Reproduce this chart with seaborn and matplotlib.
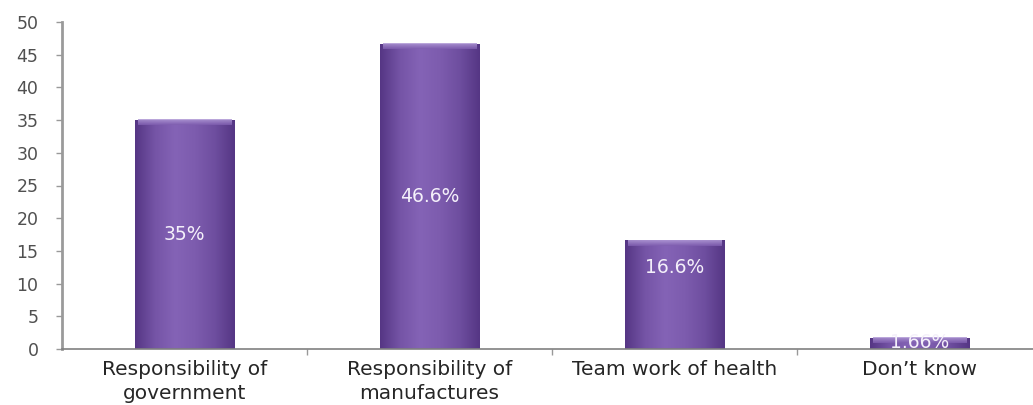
import numpy as np
import pandas as pd
import matplotlib
matplotlib.use("Agg")
import matplotlib.pyplot as plt
from matplotlib.colors import LinearSegmentedColormap
import seaborn as sns

categories = ["Responsibility of\ngovernment", "Responsibility of\nmanufactures",
              "Team work of health", "Don\u2019t know"]
values = [35, 46.6, 16.6, 1.66]
value_labels = ["35%", "46.6%", "16.6%", "1.66%"]
y_ticks = [0, 5, 10, 15, 20, 25, 30, 35, 40, 45, 50]

sns.set_theme(style="white")
plt.rcParams["font.family"] = ["DejaVu Sans"]

df = pd.DataFrame({"category": categories, "value": values})

fig = plt.figure(figsize=(10.33, 4.05), dpi=100)
ax = fig.add_axes([62 / 1033, 56 / 405, (1042 - 62) / 1033, (349 - 22) / 405])

sns.barplot(data=df, x="category", y="value", color="#7a58aa", width=0.405,
            saturation=1, ax=ax, zorder=2)

# cylinder-like horizontal shading on every bar
shade = LinearSegmentedColormap.from_list(
    "barshade", ["#553684", "#7554a6", "#8463b6", "#7d5cae", "#6e4e9f", "#553684"])
grad = np.linspace(0, 1, 256).reshape(1, -1)
for p in ax.patches:
    x0, y0 = p.get_x(), p.get_y()
    w, h = p.get_width(), p.get_height()
    im = ax.imshow(grad, cmap=shade, aspect="auto", extent=[x0, x0 + w, y0, y0 + h],
                   zorder=2.5, interpolation="bicubic")
    im.set_clip_path(p)
    # light bevel along the top edge
    bevel_h = min(0.8, h * 0.5)
    ax.imshow(np.linspace(0, 1, 64).reshape(-1, 1),
              cmap=LinearSegmentedColormap.from_list("bevel", ["#7d5cae", "#b39cd8"]),
              aspect="auto", extent=[x0 + w * 0.03, x0 + w * 0.97, y0 + h - bevel_h, y0 + h],
              zorder=2.6, alpha=0.85, origin="lower")
    p.set_edgecolor("none")

# value labels inside the bars
label_heights = [0.5, 0.5, 0.75, 0.6]
for i, (v, txt) in enumerate(zip(values, value_labels)):
    ax.text(i, v * label_heights[i], txt, ha="center", va="center", color="#f4f0fa",
            fontsize=13.5, zorder=4)

ax.set_xlim(-0.5, 3.5)
ax.set_ylim(0, 50)
ax.set_yticks(y_ticks)
ax.set_yticklabels([str(t) for t in y_ticks], fontsize=12.5, color="#505050")
ax.set_xticks(range(len(categories)))
ax.set_xticklabels(categories, fontsize=14.5, color="#262626", linespacing=1.35)
ax.set_xticks([0.5, 1.5, 2.5], minor=True)
ax.tick_params(axis="x", which="major", length=0, pad=8)
ax.tick_params(axis="x", which="minor", length=4, width=1, color="#999999", direction="out",
               bottom=True)
ax.tick_params(axis="y", length=4, width=1, color="#999999", direction="out", left=True,
               pad=13)
ax.set_xlabel("")
ax.set_ylabel("")

for side in ["top", "right"]:
    ax.spines[side].set_visible(False)
ax.spines["left"].set_color("#9a9a9a")
ax.spines["left"].set_linewidth(2)
ax.spines["bottom"].set_color("#808080")
ax.spines["bottom"].set_linewidth(1.2)
ax.spines["left"].set_zorder(5)
ax.spines["bottom"].set_zorder(5)

fig.savefig("out.png", dpi=100)
